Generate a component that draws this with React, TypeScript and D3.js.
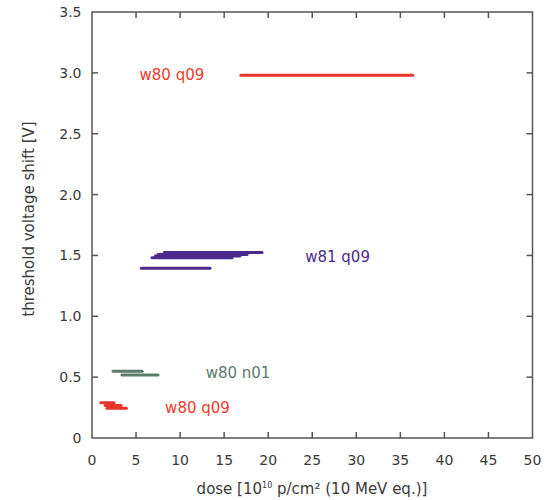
import React from "react";
import * as d3 from "d3";

const xTicks = [0, 5, 10, 15, 20, 25, 30, 35, 40, 45, 50];
const yTicks = [0, 0.5, 1.0, 1.5, 2.0, 2.5, 3.0, 3.5];
const yTickLabels = ["0", "0.5", "1.0", "1.5", "2.0", "2.5", "3.0", "3.5"];

// segments: [doseStart, doseEnd, shift]
const redHigh = [[16.9, 36.4, 2.98]];
const purple = [
  [8.2, 19.3, 1.525],
  [7.5, 17.6, 1.508],
  [7.2, 16.8, 1.495],
  [6.8, 15.9, 1.48],
  [5.6, 13.4, 1.395],
];
const gray = [
  [2.4, 5.7, 0.548],
  [3.4, 7.5, 0.518],
];
const redLow = [
  [1.0, 2.5, 0.29],
  [1.5, 3.3, 0.268],
  [1.7, 3.9, 0.245],
];

const labels = [
  { text: "w80 q09", x: 5.4, y: 2.98, color: "#ee3b2c" },
  { text: "w81 q09", x: 24.2, y: 1.49, color: "#4a2b8c" },
  { text: "w80 n01", x: 12.9, y: 0.53, color: "#5b7b6b" },
  { text: "w80 q09", x: 8.3, y: 0.25, color: "#ee3b2c" },
];

const groups = [
  { data: redHigh, color: "#e8352a" },
  { data: purple, color: "#4a2b8c" },
  { data: gray, color: "#5b7b6b" },
  { data: redLow, color: "#e8352a" },
];

export default function App() {
  const W = 556, H = 500;
  const left = 92, right = 532.5, top = 12, bottom = 438;
  const x = d3.scaleLinear().domain([0, 50]).range([left, right]);
  const y = d3.scaleLinear().domain([0, 3.5]).range([bottom, top]);
  const axisColor = "#555";
  const font = "DejaVu Sans, Verdana, sans-serif";
  const tl = 6;
  return (
    <svg width={W} height={H} style={{ position: "absolute", left: 0, top: 0 }}>
      <rect x={0} y={0} width={W} height={H} fill="white" />
      {groups.map((g, gi) =>
        g.data.map((s, i) => (
          <line key={gi + "-" + i} x1={x(s[0])} x2={x(s[1])} y1={y(s[2])} y2={y(s[2])}
            stroke={g.color} strokeWidth={3} strokeLinecap="round" />
        ))
      )}
      <rect x={left} y={top} width={right - left} height={bottom - top} fill="none" stroke={axisColor} strokeWidth={1.5} />
      {xTicks.slice(1, -1).map((t) => (
        <g key={"xt" + t}>
          <line x1={x(t)} x2={x(t)} y1={bottom} y2={bottom - tl} stroke={axisColor} strokeWidth={1.5} />
          <line x1={x(t)} x2={x(t)} y1={top} y2={top + tl} stroke={axisColor} strokeWidth={1.5} />
        </g>
      ))}
      {yTicks.slice(1, -1).map((t) => (
        <g key={"yt" + t}>
          <line x1={left} x2={left + tl} y1={y(t)} y2={y(t)} stroke={axisColor} strokeWidth={1.5} />
          <line x1={right} x2={right - tl} y1={y(t)} y2={y(t)} stroke={axisColor} strokeWidth={1.5} />
        </g>
      ))}
      {xTicks.map((t) => (
        <text key={"xl" + t} x={x(t)} y={464.5} textAnchor="middle" fontFamily={font} fontSize={14} fill="#3a3a3a">{t}</text>
      ))}
      {yTicks.map((t, i) => (
        <text key={"yl" + t} x={81.5} y={y(t) + 5} textAnchor="end" fontFamily={font} fontSize={14} fill="#3a3a3a">{yTickLabels[i]}</text>
      ))}
      <text x={312} y={494} textAnchor="middle" fontFamily={font} fontSize={15} fill="#3a3a3a">
        dose [10<tspan dy={-6} fontSize={8}>10</tspan><tspan dy={6}> p/cm² (10 MeV eq.)]</tspan>
      </text>
      <text transform={`translate(34,219) rotate(-90)`} textAnchor="middle" fontFamily={font} fontSize={15} fill="#3a3a3a">
        threshold voltage shift [V]
      </text>
      {labels.map((l, i) => (
        <text key={"lb" + i} x={x(l.x)} y={y(l.y) + 5} fontFamily={font} fontSize={15} fill={l.color}>{l.text}</text>
      ))}
    </svg>
  );
}
